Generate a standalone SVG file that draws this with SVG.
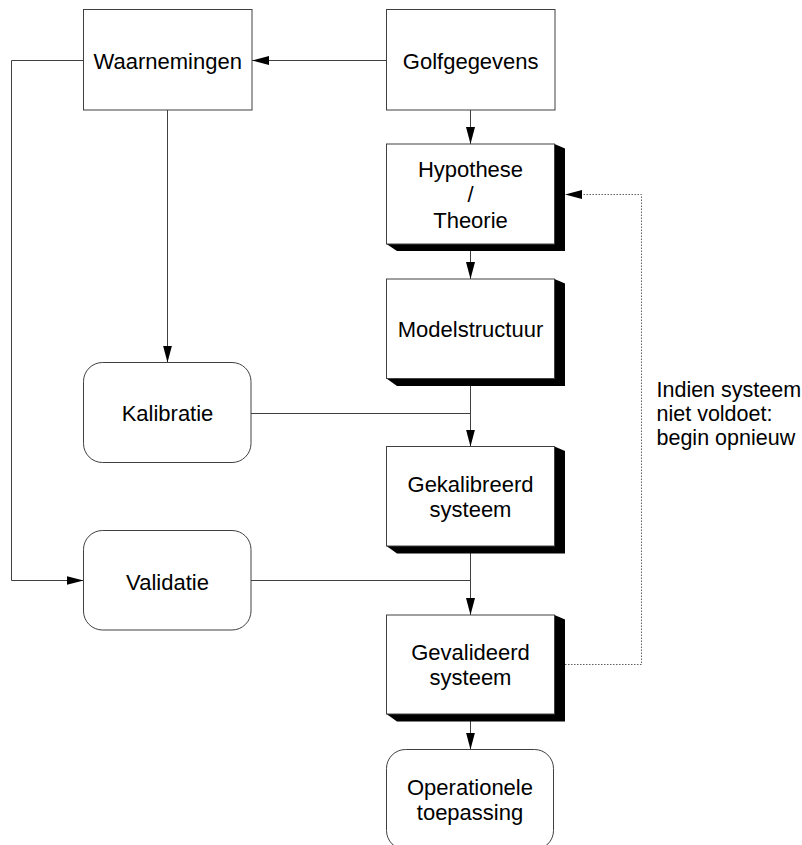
<svg xmlns="http://www.w3.org/2000/svg" width="802" height="845" viewBox="0 0 802 845">
  <style>
    .box { fill: #ffffff; stroke: #404040; stroke-width: 1; }
    .shadow { fill: #000000; stroke: none; }
    .lbl { font-family: "Liberation Sans", Arial, sans-serif; font-size: 22px; fill: #000000; text-anchor: middle; }
    .note { font-family: "Liberation Sans", Arial, sans-serif; font-size: 21.5px; fill: #000000; }
    .wire { fill: none; stroke: #404040; stroke-width: 1; }
    .dots { fill: none; stroke: #606060; stroke-width: 1; stroke-dasharray: 1.5 1.5; }
  </style>
  <defs>
    <marker id="arrow" viewBox="0 0 17 9" refX="17" refY="4.5" markerWidth="17" markerHeight="9" markerUnits="userSpaceOnUse" orient="auto">
      <path d="M0,0 L17,4.5 L0,9 Z" fill="#000000"/>
    </marker>
  </defs>

  <rect width="802" height="845" fill="#ffffff"/>

  <!-- connectors -->
  <g id="connectors">
    <path class="wire" d="M386.5,60.5 H252" marker-end="url(#arrow)"/>
    <path class="wire" d="M83.5,60.5 H11.5 V580.5 H83.5" marker-end="url(#arrow)"/>
    <path class="wire" d="M167.5,110 V362.5" marker-end="url(#arrow)"/>
    <path class="wire" d="M470.5,110 V144" marker-end="url(#arrow)"/>
    <path class="wire" d="M470.5,251 V279" marker-end="url(#arrow)"/>
    <path class="wire" d="M470.5,386 V446.5" marker-end="url(#arrow)"/>
    <path class="wire" d="M251,413.5 H470.5"/>
    <path class="wire" d="M470.5,553 V615" marker-end="url(#arrow)"/>
    <path class="wire" d="M251,580.5 H470.5"/>
    <path class="wire" d="M470.5,721 V749.5" marker-end="url(#arrow)"/>
    <path class="dots" d="M565,664.5 H641.5 V194.5 H580"/>
    <path d="M565,194.5 L582,190 L582,199 Z" fill="#000000"/>
  </g>

  <g id="waarnemingen">
    <rect class="box" x="83.5" y="9.5" width="168.5" height="100.5"/>
    <text class="lbl" x="167.7" y="68.5">Waarnemingen</text>
  </g>

  <g id="golfgegevens">
    <rect class="box" x="386.5" y="9.5" width="168.5" height="100.5"/>
    <text class="lbl" x="470.7" y="68.5">Golfgegevens</text>
  </g>

  <g id="hypothese">
    <polygon class="shadow" points="554.5,144 565,148.5 565,251 397,251 386.5,244"/>
    <rect class="box" x="386.5" y="144" width="168" height="100"/>
    <text class="lbl" x="470.5" y="176.5">Hypothese</text>
    <text class="lbl" x="470.5" y="202">/</text>
    <text class="lbl" x="470.5" y="227.5">Theorie</text>
  </g>

  <g id="modelstructuur">
    <polygon class="shadow" points="554.5,279 565,283.5 565,386 397,386 386.5,378.5"/>
    <rect class="box" x="386.5" y="279" width="168" height="99.5"/>
    <text class="lbl" x="470.5" y="337">Modelstructuur</text>
  </g>

  <g id="kalibratie">
    <rect class="box" x="83.5" y="362.5" width="167.5" height="100" rx="19" ry="19"/>
    <text class="lbl" x="167.5" y="420.5">Kalibratie</text>
  </g>

  <g id="gekalibreerd">
    <polygon class="shadow" points="554.5,446.5 565,451 565,553.5 397,553.5 386.5,546"/>
    <rect class="box" x="386.5" y="446.5" width="168" height="99.5"/>
    <text class="lbl" x="470.5" y="491.5">Gekalibreerd</text>
    <text class="lbl" x="470.5" y="516.5">systeem</text>
  </g>

  <g id="validatie">
    <rect class="box" x="83.5" y="530.5" width="167.5" height="99.5" rx="19" ry="19"/>
    <text class="lbl" x="167.5" y="589.5">Validatie</text>
  </g>

  <g id="gevalideerd">
    <polygon class="shadow" points="554.5,615 565,619.5 565,721.5 397,721.5 386.5,714"/>
    <rect class="box" x="386.5" y="615" width="168" height="99"/>
    <text class="lbl" x="470.5" y="660">Gevalideerd</text>
    <text class="lbl" x="470.5" y="685">systeem</text>
  </g>

  <g id="operationele">
    <rect class="box" x="386.5" y="749.5" width="167" height="100" rx="19" ry="19"/>
    <text class="lbl" x="470" y="795">Operationele</text>
    <text class="lbl" x="470" y="820">toepassing</text>
  </g>

  <g id="note">
    <text class="note" x="656.5" y="397">Indien systeem</text>
    <text class="note" x="656.5" y="421">niet voldoet:</text>
    <text class="note" x="656.5" y="444.5">begin opnieuw</text>
  </g>
</svg>
